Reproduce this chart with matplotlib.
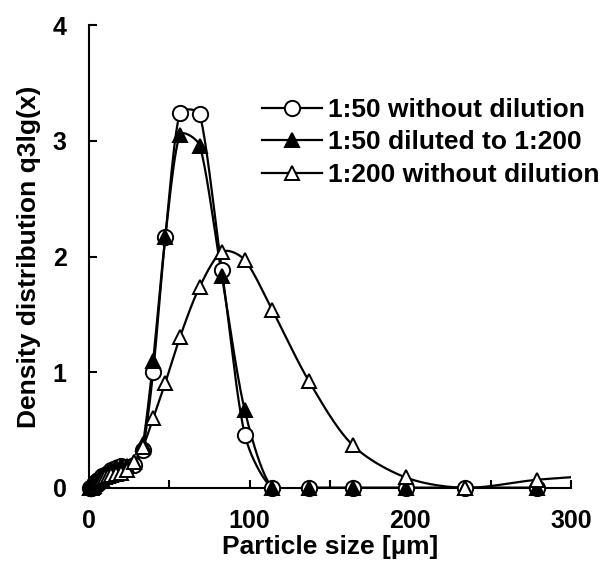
import numpy as np
import matplotlib
matplotlib.use("Agg")
import matplotlib.pyplot as plt
from matplotlib.lines import Line2D

plt.rcParams['font.family'] = ['Liberation Sans', 'DejaVu Sans']
plt.rcParams['font.weight'] = 'bold'

# particle size classes [um]
size = [0.9, 1.1, 1.3, 1.5, 1.8, 2.1, 2.5, 3.0, 3.6, 4.2, 5.0, 5.9, 7.0, 8.4,
        9.9, 11.8, 14.1, 16.7, 19.9, 23.7, 28.2, 33.6, 40.0, 47.6, 56.6, 69.0,
        82.8, 97.0, 114, 137, 164, 197, 234, 279, 332]

q_50 = [0.0, 0.0, 0.0, 0.0, 0.01, 0.01, 0.02, 0.03, 0.04, 0.05, 0.06, 0.07,
        0.08, 0.10, 0.11, 0.13, 0.15, 0.17, 0.19, 0.18, 0.20, 0.33, 1.00, 2.17,
        3.24, 3.23, 1.88, 0.46, 0.0, 0.0, 0.0, 0.0, 0.0, 0.0]
q_50_to_200 = [0.0, 0.0, 0.0, 0.0, 0.01, 0.01, 0.02, 0.03, 0.04, 0.05, 0.06, 0.07,
               0.09, 0.10, 0.12, 0.14, 0.16, 0.18, 0.19, 0.19, 0.22, 0.38, 1.10, 2.17,
               3.05, 2.96, 1.83, 0.67, 0.0, 0.0, 0.0, 0.0, 0.0, 0.0]
q_200 = [0.0, 0.0, 0.0, 0.0, 0.01, 0.01, 0.01, 0.02, 0.03, 0.04, 0.05, 0.06,
         0.07, 0.08, 0.09, 0.10, 0.11, 0.12, 0.13, 0.15, 0.22, 0.35, 0.60, 0.91,
         1.30, 1.74, 2.04, 1.97, 1.54, 0.92, 0.37, 0.09, 0.0, 0.07, 0.12]

labels = ['1:50 without dilution', '1:50 diluted to 1:200', '1:200 without dilution']


def smooth(ax, x, y, n=24, cap=0.3):
    # bezier smoothing in display space, control arms capped by segment length
    pts = ax.transData.transform(np.column_stack([x, y]))
    ext = np.vstack([pts[:1], pts, pts[-1:]])
    t = np.linspace(0, 1, n)[:, None]
    out = []
    for i in range(len(pts) - 1):
        p0, p3 = pts[i], pts[i + 1]
        seg = np.hypot(*(p3 - p0))
        a = (ext[i + 2] - ext[i]) / 6
        b = (ext[i + 3] - ext[i + 1]) / 6
        for v in (a, b):
            L = np.hypot(*v)
            if L > cap * seg and L > 0:
                v *= cap * seg / L
        p1 = p0 + a
        p2 = p3 - b
        out.append((1 - t) ** 3 * p0 + 3 * (1 - t) ** 2 * t * p1
                   + 3 * (1 - t) * t ** 2 * p2 + t ** 3 * p3)
    out = ax.transData.inverted().transform(np.vstack(out))
    return out[:, 0], out[:, 1]


fig = plt.figure(figsize=(6, 5.62), dpi=100)
ax = fig.add_axes([0.148, 0.132, 0.804, 0.823])
ax.set_xlim(0, 300)
ax.set_ylim(0, 4)

series = [
    (q_50, dict(marker='o', mfc='white', mec='black', ms=11)),
    (q_50_to_200, dict(marker='^', mfc='black', mec='black', ms=10)),
    (q_200, dict(marker='^', mfc='white', mec='black', ms=10)),
]

handles = []
for (q, style), lab in zip(series, labels):
    xs = size[:len(q)]
    sx, sy = smooth(ax, xs, q)
    ax.plot(sx, sy, color='black', lw=1.6, zorder=2)
    xv = np.array(xs)
    yv = np.array(q)
    keep = xv <= 300
    ax.plot(xv[keep], yv[keep], ls='none', mew=1.4, clip_on=False, zorder=3, **style)
    handles.append(Line2D([], [], color='black', lw=1.6, mew=1.4, **style))

ax.set_xticks([0, 50, 100, 150, 200, 250, 300])
ax.set_xticklabels(['0', '', '100', '', '200', '', '300'])
ax.set_yticks([0, 1, 2, 3, 4])
ax.tick_params(direction='in', length=6, width=1.5, labelsize=18)
ax.tick_params(axis='x', pad=15)
ax.tick_params(axis='y', pad=16)
for s in ['top', 'right']:
    ax.spines[s].set_visible(False)
for s in ['left', 'bottom']:
    ax.spines[s].set_linewidth(1.5)

ax.set_xlabel('Particle size [µm]', fontsize=19, fontweight='bold', labelpad=2)
ax.set_ylabel('Density distribution q3lg(x)', fontsize=19, fontweight='bold', labelpad=8)

ax.legend(handles=handles, labels=labels, loc='upper left',
          bbox_to_anchor=(0.436, 0.826), bbox_transform=fig.transFigure,
          frameon=False, fontsize=19, handlelength=2.3, handletextpad=0.2,
          labelspacing=0.33, borderaxespad=0, borderpad=0)

fig.savefig('out.png', dpi=100)
